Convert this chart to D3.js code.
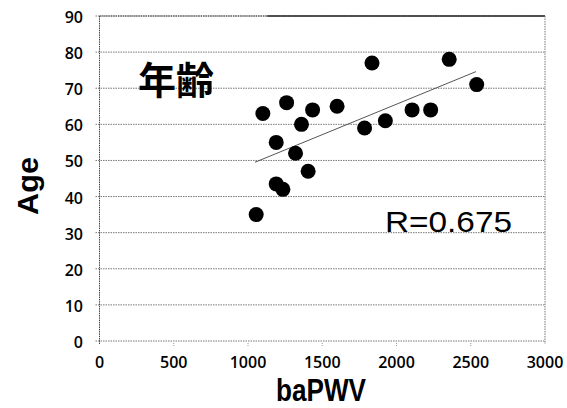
<!DOCTYPE html>
<html>
<head>
<meta charset="utf-8">
<script src="https://cdn.jsdelivr.net/npm/d3@7"></script>
<style>
  body { margin: 0; background: #fff; }
  svg { display: block; }
</style>
</head>
<body>
<div id="main"></div>
<script>
const baPWV = [1055, 1100, 1190, 1235, 1190, 1260, 1320, 1360, 1405, 1435, 1600, 1785, 1835, 1925, 2105, 2230, 2355, 2540];
const age   = [35, 63, 43.5, 42, 55, 66, 52, 60, 47, 64, 65, 59, 77, 61, 64, 64, 78, 71];
const xTicks = [0, 500, 1000, 1500, 2000, 2500, 3000];
const yTicks = [0, 10, 20, 30, 40, 50, 60, 70, 80, 90];
const trendX = [1047, 2535];
const trendY = [49.5, 74.6];

const width = 567;
const height = 408;
const plotLeft = 99.5, plotRight = 545, plotTop = 16, plotBottom = 341;

const x = d3.scaleLinear().domain([0, 3000]).range([plotLeft, plotRight]);
const y = d3.scaleLinear().domain([0, 90]).range([plotBottom, plotTop]);

const svg = d3.select("#main").append("svg").attr("width", width).attr("height", height);

// grid
svg.append("g")
  .selectAll("line")
  .data(yTicks)
  .enter()
  .append("line")
  .attr("x1", plotLeft - 4)
  .attr("x2", plotRight)
  .attr("y1", (d) => y(d))
  .attr("y2", (d) => y(d))
  .attr("stroke", "#777")
  .attr("stroke-width", 1)
  .attr("stroke-dasharray", "1.5,1");

// frame
svg.append("line").attr("x1", plotLeft).attr("x2", plotRight).attr("y1", plotTop).attr("y2", plotTop)
  .attr("stroke", "#444").attr("stroke-width", 1.2).attr("stroke-dasharray", "1.5,0.8");
svg.append("line").attr("x1", x(1130)).attr("x2", plotRight).attr("y1", plotTop).attr("y2", plotTop)
  .attr("stroke", "#333").attr("stroke-width", 1.3);
svg.append("line").attr("x1", plotLeft).attr("x2", plotLeft).attr("y1", plotTop).attr("y2", plotBottom + 3)
  .attr("stroke", "#444").attr("stroke-width", 1).attr("stroke-dasharray", "1.5,0.8");
svg.append("line").attr("x1", plotRight).attr("x2", plotRight).attr("y1", plotTop).attr("y2", plotBottom + 3)
  .attr("stroke", "#777").attr("stroke-width", 1).attr("stroke-dasharray", "1.5,1");

// x ticks
svg.append("g")
  .selectAll("line")
  .data(xTicks.slice(1, -1))
  .enter()
  .append("line")
  .attr("x1", (d) => x(d))
  .attr("x2", (d) => x(d))
  .attr("y1", plotBottom + 2)
  .attr("y2", plotBottom + 6)
  .attr("stroke", "#999")
  .attr("stroke-dasharray", "1,1");

// tick labels
svg.append("g")
  .selectAll("text")
  .data(yTicks)
  .enter()
  .append("text")
  .attr("x", 83)
  .attr("y", (d) => y(d) + 7)
  .attr("text-anchor", "end")
  .attr("font-family", "Open Sans, Noto Sans, sans-serif")
  .attr("font-weight", 600)
  .attr("font-size", 16)
  .attr("fill", "#000")
  .text((d) => d);

svg.append("g")
  .selectAll("text")
  .data(xTicks)
  .enter()
  .append("text")
  .attr("x", (d) => x(d))
  .attr("y", 368)
  .attr("text-anchor", "middle")
  .attr("font-family", "Open Sans, Noto Sans, sans-serif")
  .attr("font-weight", 600)
  .attr("font-size", 16)
  .attr("fill", "#000")
  .text((d) => d);

// trend line
svg.append("line")
  .attr("x1", x(trendX[0]))
  .attr("y1", y(trendY[0]))
  .attr("x2", x(trendX[1]))
  .attr("y2", y(trendY[1]))
  .attr("stroke", "#555")
  .attr("stroke-width", 1);

// points
svg.append("g")
  .selectAll("circle")
  .data(baPWV)
  .enter()
  .append("circle")
  .attr("cx", (d) => x(d))
  .attr("cy", (d, i) => y(age[i]))
  .attr("r", 7.5)
  .attr("fill", "#000");

// labels
svg.append("text")
  .attr("x", 176)
  .attr("y", 94)
  .attr("text-anchor", "middle")
  .attr("font-family", "Noto Sans CJK JP, sans-serif")
  .attr("font-weight", "bold")
  .attr("font-size", 38)
  .attr("fill", "#000")
  .text("年齢");

svg.append("text")
  .attr("x", 385)
  .attr("y", 232)
  .attr("font-family", "Liberation Sans, Arial, sans-serif")
  .attr("font-size", 30)
  .attr("textLength", 127)
  .attr("lengthAdjust", "spacingAndGlyphs")
  .attr("fill", "#000")
  .text("R=0.675");

svg.append("text")
  .attr("transform", "translate(38,186) rotate(-90)")
  .attr("text-anchor", "middle")
  .attr("font-family", "Liberation Sans, Arial, sans-serif")
  .attr("font-weight", "bold")
  .attr("font-size", 29)
  .attr("textLength", 58)
  .attr("lengthAdjust", "spacingAndGlyphs")
  .attr("fill", "#000")
  .text("Age");

svg.append("text")
  .attr("x", 321)
  .attr("y", 401)
  .attr("text-anchor", "middle")
  .attr("font-family", "Liberation Sans, Arial, sans-serif")
  .attr("font-weight", "bold")
  .attr("font-size", 31)
  .attr("textLength", 90)
  .attr("lengthAdjust", "spacingAndGlyphs")
  .attr("fill", "#000")
  .text("baPWV");
</script>
</body>
</html>
